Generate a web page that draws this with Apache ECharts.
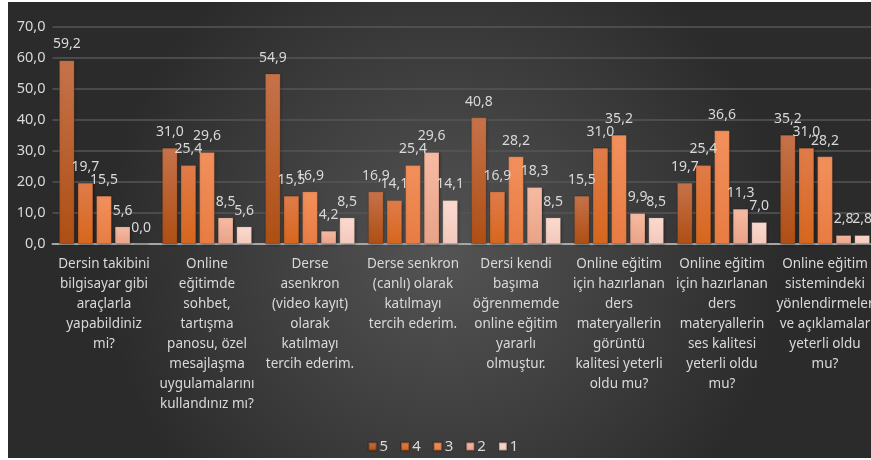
<!DOCTYPE html>
<html>
<head>
<meta charset="utf-8">
<script src="https://cdn.jsdelivr.net/npm/echarts@6/dist/echarts.min.js"></script>
<style>
  html, body { margin: 0; padding: 0; background: #fff; overflow: hidden; }
  #chart { position: absolute; left: 8px; top: 2px; width: 870px; height: 456px; }
</style>
</head>
<body>
<div id="chart"></div>
<script>
const categories = [
  'Dersin takibini\nbilgisayar gibi\naraçlarla\nyapabildiniz\nmi?',
  'Online\neğitimde\nsohbet,\ntartışma\npanosu, özel\nmesajlaşma\nuygulamalarını\nkullandınız mı?',
  'Derse\nasenkron\n(video kayıt)\nolarak\nkatılmayı\ntercih ederim.',
  'Derse senkron\n(canlı) olarak\nkatılmayı\ntercih ederim.',
  'Dersi kendi\nbaşıma\nöğrenmemde\nonline eğitim\nyararlı\nolmuştur.',
  'Online eğitim\niçin hazırlanan\nders\nmateryallerin\ngörüntü\nkalitesi yeterli\noldu mu?',
  'Online eğitim\niçin hazırlanan\nders\nmateryallerin\nses kalitesi\nyeterli oldu\nmu?',
  'Online eğitim\nsistemindeki\nyönlendirmeler\nve açıklamalar\nyeterli oldu\nmu?'
]
const seriesNames = ['5', '4', '3', '2', '1']
const values5 = [59.2, 31.0, 54.9, 16.9, 40.8, 15.5, 19.7, 35.2]
const values4 = [19.7, 25.4, 15.5, 14.1, 16.9, 31.0, 25.4, 31.0]
const values3 = [15.5, 29.6, 16.9, 25.4, 28.2, 35.2, 36.6, 28.2]
const values2 = [5.6, 8.5, 4.2, 29.6, 18.3, 9.9, 11.3, 2.8]
const values1 = [0.0, 5.6, 8.5, 14.1, 8.5, 8.5, 7.0, 2.8]

// top / bottom colours of each bar gradient
const barColors = [
  ['#c6724a', '#ae4f14'],
  ['#e07c4a', '#d6661c'],
  ['#f2905c', '#e87c42'],
  ['#f6bba3', '#e9a287'],
  ['#fbdacf', '#f2c9bc']
]

const fmt = (v) => v.toFixed(1).replace('.', ',')
const textColor = '#d9d9d9'
const fontFamily = '"Noto Sans", "Open Sans", sans-serif'

const chart = echarts.init(document.getElementById('chart'))

const allValues = [values5, values4, values3, values2, values1]

const option = {
  backgroundColor: {
    type: 'radial',
    x: 0.5,
    y: 0.55,
    r: 0.75,
    colorStops: [
      { offset: 0, color: '#545454' },
      { offset: 1, color: '#2b2b2b' }
    ]
  },
  textStyle: { fontFamily: fontFamily },
  legend: {
    data: seriesNames,
    top: 432,
    left: 'center',
    itemWidth: 8,
    itemHeight: 8,
    itemGap: 12,
    icon: 'rect',
    textStyle: { color: textColor, fontSize: 15, fontFamily: fontFamily, padding: [0, 0, 0, -2] }
  },
  grid: {
    left: 44.5,
    right: 1.5,
    top: 25,
    bottom: 214,
    containLabel: false
  },
  xAxis: {
    type: 'category',
    data: categories,
    axisLine: { lineStyle: { color: '#a6a6a6', width: 2 } },
    axisTick: { show: false },
    axisLabel: {
      interval: 0,
      color: textColor,
      fontSize: 13.5,
      lineHeight: 20,
      margin: 10,
      fontFamily: fontFamily
    }
  },
  yAxis: {
    type: 'value',
    min: 0,
    max: 70,
    interval: 10,
    axisLine: { show: false },
    axisTick: { show: false },
    splitLine: { lineStyle: { color: '#565656', width: 1.5 } },
    axisLabel: {
      color: textColor,
      fontSize: 14.5,
      margin: 7,
      fontFamily: fontFamily,
      formatter: (v) => fmt(v)
    }
  },
  series: seriesNames.map((name, i) => ({
    name: name,
    type: 'bar',
    data: allValues[i],
    barGap: '22%',
    barCategoryGap: '13%',
    itemStyle: {
      color: {
        type: 'linear',
        x: 0, y: 0, x2: 0, y2: 1,
        colorStops: [
          { offset: 0, color: barColors[i][0] },
          { offset: 1, color: barColors[i][1] }
        ]
      },
      borderColor: 'rgba(0,0,0,0.25)',
      borderWidth: 0.5,
      shadowColor: 'rgba(0,0,0,0.35)',
      shadowBlur: 3,
      shadowOffsetX: 1,
      shadowOffsetY: 1
    },
    label: {
      show: true,
      position: 'top',
      distance: 9,
      color: textColor,
      fontSize: 14,
      fontFamily: fontFamily,
      formatter: (p) => fmt(p.value)
    }
  }))
}

chart.setOption(option)
</script>
</body>
</html>
